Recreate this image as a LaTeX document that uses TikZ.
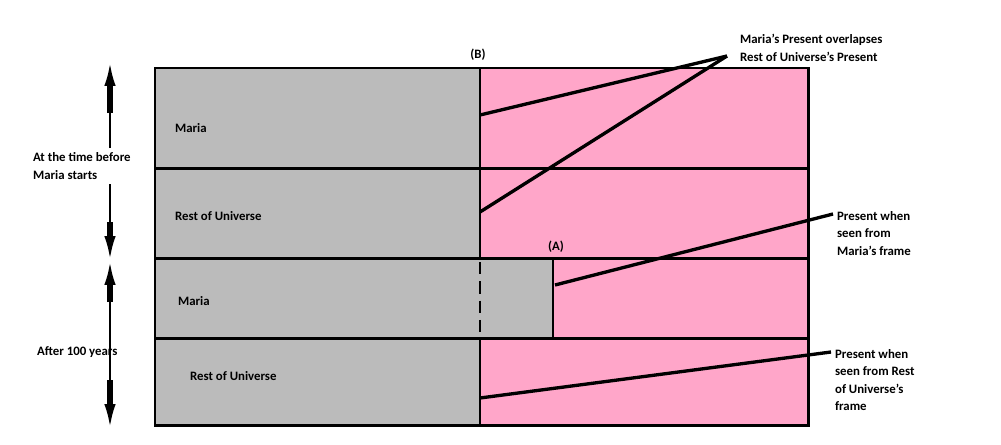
\documentclass[tikz,border=0pt]{standalone}
\usepackage{fontspec}
\setmainfont{Carlito}
\usepackage{tikz}
\usetikzlibrary{arrows.meta,positioning}
\definecolor{pnk}{RGB}{255,166,201}
\definecolor{gry}{RGB}{187,187,187}

\begin{document}
\begin{tikzpicture}[x=0.02cm,y=-0.02cm,font=\fontsize{7.3}{10}\selectfont\bfseries,
  wall/.style={line width=1.7pt},
  lead/.style={line width=1.9pt},
  txt/.style={align=left,inner sep=1pt},
  tim/.style={line width=1.6pt,-{Latex[length=13pt,width=6.5pt]}},
  stub/.style={line width=3.6pt}]
  \useasboundingbox (0,0) rectangle (1001,444);
  % the four strips
  \fill[pnk] (155,68) rectangle (808,425);
  \fill[gry] (155,68) rectangle (480,258);
  \fill[gry] (155,258) rectangle (553,338);
  \fill[gry] (155,338) rectangle (480,425);
  \foreach \y in {168,258,338} \draw[wall] (155,\y)--(808,\y);
  \draw[wall] (155,68) rectangle (808,425);
  \draw[wall] (480,68)--(480,258);
  \draw[wall,dash pattern=on 7pt off 4pt] (480,262)--(480,338);
  \draw[wall] (480,338)--(480,425);
  \draw[wall] (553,258)--(553,338);
  % row names
  \node[txt,anchor=west] (M1) at (173,128) {Maria};
  \node[txt,anchor=west] (R1) at (173,216) {Rest of Universe};
  \node[txt,anchor=west] (M2) at (176,301) {Maria};
  \node[txt,anchor=west] (R2) at (188,376) {Rest of Universe};
  \node[txt] (B) at (478,55) {(B)};
  \node[txt] (A) at (556,247) {(A)};
  % leaders
  \coordinate (p1) at (480,115);
  \coordinate (p2) at (480,212);
  \coordinate (p3) at (555,285);
  \coordinate (p4) at (480,398);
  \coordinate (tip) at (727,56);
  \node[txt,anchor=west] (OV) at (738,48) {Maria's Present overlapses\\Rest of Universe's Present};
  \node[txt,anchor=north west] (MF) at (835,209) {Present when\\seen from\\Maria's frame};
  \node[txt,anchor=north west] (RF) at (833,347) {Present when\\seen from Rest\\of Universe's\\frame};
  \draw[lead] (p1)--(tip);
  \draw[lead] (p2)--(tip);
  \draw[lead] (p3)--([shift={(-2,5)}]MF.north west);
  \draw[lead] (p4)--([shift={(-2,5)}]RF.north west);
  % time arrows
  \node[txt,anchor=west] (T1) at (31,166) {At the time before\\Maria starts};
  \node[txt,anchor=west] (T2) at (35,352) {After 100 years};
  \coordinate (a0) at (110,148);
  \coordinate (a1) at (110,63);
  \coordinate (b0) at (110,184);
  \coordinate (b1) at (110,259);
  \coordinate (c0) at (110,262);
  \coordinate (c1) at (110,427);
  \draw[tim] (a0)--(a1);
  \draw[tim] (b0)--(b1);
  \draw[tim,{Latex[length=13pt,width=6.5pt]}-{Latex[length=13pt,width=6.5pt]}] (c0)--(c1);
  \draw[stub] (110,113)--(110,85);
  \draw[stub] (110,222)--(110,237);
  \draw[stub] (110,302)--(110,284);
  \draw[stub] (110,380)--(110,405);
\end{tikzpicture}
\end{document}
